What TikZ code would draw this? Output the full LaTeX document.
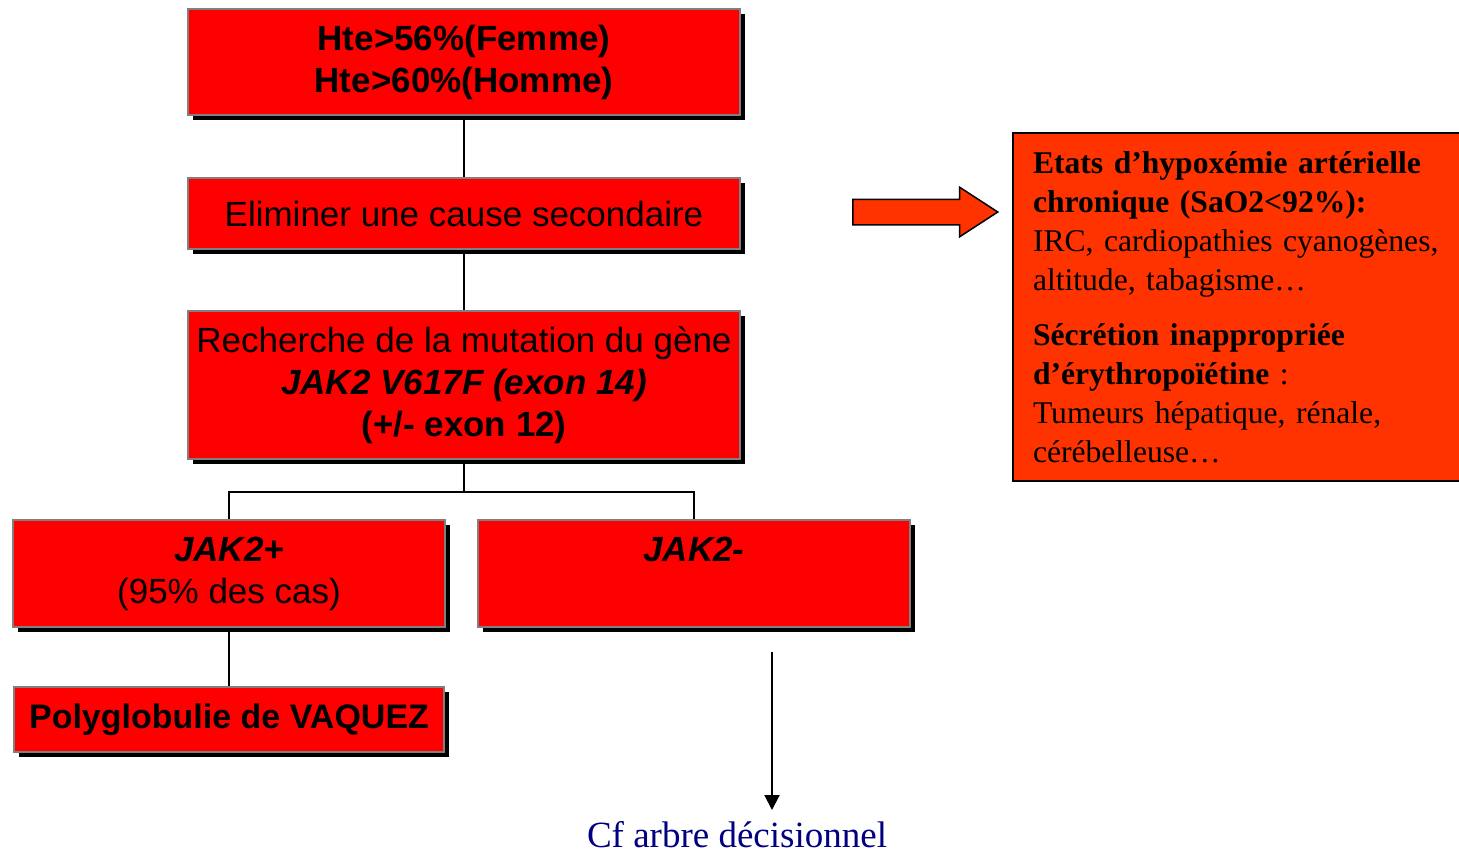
\documentclass[tikz,border=0pt]{standalone}
\usepackage{fontspec}
\setmainfont{Liberation Sans}
\newfontfamily\timesfont{Liberation Serif}
\usetikzlibrary{arrows.meta,positioning,shadows,shapes.arrows}
\definecolor{boxred}{HTML}{FF0000}
\definecolor{orangered}{HTML}{FF3300}
\definecolor{cfnavy}{HTML}{000080}

\begin{document}
\begin{tikzpicture}[x=0.5pt,y=-0.5pt,
  box/.style={draw=gray,line width=1pt,fill=boxred,align=center,inner sep=2pt,
    font=\fontsize{17.5}{21}\selectfont,
    drop shadow={shadow xshift=2.5pt,shadow yshift=-2.5pt,fill=black,opacity=1}},
  link/.style={line width=1pt}]
  \useasboundingbox (0,0) rectangle (1459,853);
  \node[box,minimum width=276pt,minimum height=53pt] (hte) at (464,62)
    {{\bfseries Hte>56\%(Femme)}\\{\bfseries Hte>60\%(Homme)}};
  \node[box,minimum width=276pt,minimum height=35.5pt] (elim) at (464,213.5)
    {Eliminer une cause secondaire};
  \node[box,minimum width=276pt,minimum height=74pt] (rech) at (464,385)
    {Recherche de la mutation du gène\\{\bfseries\itshape JAK2 V617F (exon 14)}\\{\bfseries (+/- exon 12)}};
  \node[box,minimum width=216pt,minimum height=53.5pt] (jakp) at (229,573.5)
    {{\bfseries\itshape JAK2+}\\(95\% des cas)};
  \node[box,minimum width=216pt,minimum height=53.5pt] (jakm) at (694,573.5)
    {{\bfseries\itshape JAK2-}\\\phantom{(95\%)}};
  \node[box,minimum width=215pt,minimum height=32.5pt,font=\fontsize{17}{21}\selectfont] (vaq) at (229,719.5)
    {\bfseries Polyglobulie de VAQUEZ};
  \node[single arrow,draw=black,line width=0.75pt,fill=orangered,minimum width=24pt,
    minimum height=72.5pt,single arrow head extend=6pt,single arrow tip angle=66,
    inner xsep=0pt,inner ysep=6pt,anchor=west] (arr) at (852,212) {};
  \node[draw=black,line width=1pt,fill=orangered,text width=215pt,inner xsep=10pt,
    minimum height=174pt,align=left,font=\timesfont\fontsize{15.8}{19.5}\selectfont] (causes) at (1248,307)
    {\textbf{Etats d’hypoxémie artérielle}\\
     \textbf{chronique (SaO2<92\%):}\\
     IRC, cardiopathies cyanogènes,\\
     altitude, tabagisme…\\[8pt]
     \textbf{Sécrétion inappropriée}\\
     \textbf{d’érythropoïétine} :\\
     Tumeurs hépatique, rénale,\\
     cérébelleuse…};
  \node[text=cfnavy,font=\timesfont\fontsize{18.5}{22}\selectfont] (cf) at (737,835) {Cf arbre décisionnel};
  \coordinate (cfs) at (772,652);
  \coordinate (cfe) at (772,810);
  \draw[link] (hte.south) -- (elim.north);
  \draw[link] (elim.south) -- (rech.north);
  \draw[link] (rech.south) -- ++(0,32) coordinate (fork);
  \draw[link] (fork) -| (jakp.north);
  \draw[link] (fork) -| (jakm.north);
  \draw[link] (jakp.south) -- (vaq.north);
  \draw[link,-{Triangle[length=7.5pt,width=7.5pt]}] (cfs) -- (cfe);
\end{tikzpicture}
\end{document}
